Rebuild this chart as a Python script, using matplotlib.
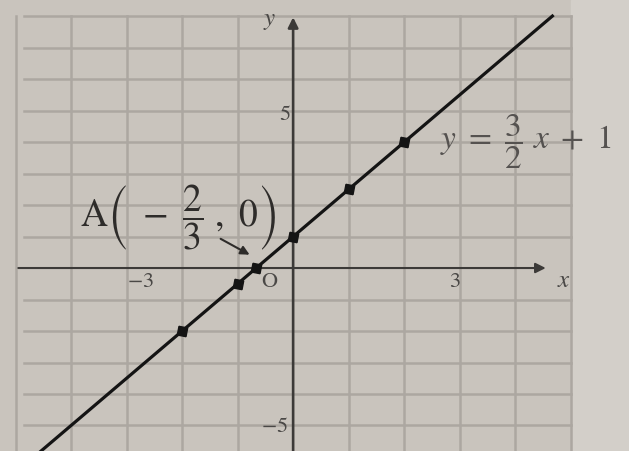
import numpy as np
import matplotlib.pyplot as plt

# points marked on the line y = 3/2 x + 1
pts_x = [-2, -1, -2/3, 0, 1, 2]
pts_y = [-2, -0.5, 0, 1, 2.5, 4]

# ends of the drawn line
line_x = [-4.8, 4.67]
line_y = [-6.2, 8.0]

grid_x = [-5, -4, -3, -2, -1, 1, 2, 3, 4, 5]
grid_y = [-6, -5, -4, -3, -2, -1, 1, 2, 3, 4, 5, 6, 7, 8]

tick_labels = {"x": [(-2.75, "$-3$"), (2.92, "$3$")], "y": [(5, "$5$"), (-5, "$-5$")]}

plt.rcParams['mathtext.fontset'] = 'stix'
plt.rcParams['font.family'] = ['Liberation Serif', 'DejaVu Serif']

fig = plt.figure(figsize=(6.29, 4.51), dpi=100)
fig.patch.set_facecolor('#c9c4bd')
ax = fig.add_axes([0, 0, 1, 1])
ax.set_facecolor('#c9c4bd')
ax.set_xlim(-5.28, 6.05)
ax.set_ylim(-5.81, 8.51)
ax.axis('off')

# lighter paper on the right beyond the grid
ax.axvspan(5.0, 6.1, color='#d3cfc9', zorder=0)

gc = '#aca7a1'
for gx in grid_x:
    ax.plot([gx, gx], [-6, 8], color=gc, lw=1.8, zorder=1)
for gy in grid_y:
    ax.plot([-4.85, 5], [gy, gy], color=gc, lw=1.8, zorder=1)

axc = '#3c3a38'
ax.annotate('', xy=(4.6, 0), xytext=(-5.0, 0),
            arrowprops=dict(arrowstyle='-|>', color=axc, lw=1.5, mutation_scale=15), zorder=2)
ax.annotate('', xy=(0, 8.05), xytext=(0, -6.0),
            arrowprops=dict(arrowstyle='-|>', color=axc, lw=1.9, mutation_scale=15), zorder=2)

ax.plot(line_x, line_y, color='#141414', lw=2.3, zorder=3)
ax.plot(pts_x, pts_y, ls='none', marker=(4, 0, 34), ms=9, color='#141414', zorder=4)

tc = '#4a4846'
ax.text(tick_labels["x"][0][0], -0.45, tick_labels["x"][0][1], ha='center', va='center', fontsize=16, color=tc)
ax.text(tick_labels["x"][1][0], -0.45, tick_labels["x"][1][1], ha='center', va='center', fontsize=16, color=tc)
ax.text(-0.05, tick_labels["y"][0][0] - 0.15, tick_labels["y"][0][1], ha='right', va='center', fontsize=16, color=tc)
ax.text(-0.1, tick_labels["y"][1][0] - 0.05, tick_labels["y"][1][1], ha='right', va='center', fontsize=16, color=tc)
ax.text(-0.42, -0.45, '$\\mathrm{O}$', ha='center', va='center', fontsize=16, color=tc)
ax.text(4.88, -0.42, '$x$', ha='center', va='center', fontsize=18, color=tc)
ax.text(-0.42, 7.85, '$y$', ha='center', va='center', fontsize=18, color=tc)

ax.text(2.65, 4.0, r'$y\ =\ \dfrac{3}{2}\ x\ +\ 1$', ha='left', va='center', fontsize=24, color='#555250')
ax.text(-3.83, 1.6, r'$\mathrm{A}\left(\ -\ \dfrac{2}{3}\ ,\ 0\right)$', ha='left', va='center',
        fontsize=27, color='#2e2c2a')
ax.annotate('', xy=(-0.74, 0.38), xytext=(-1.35, 0.97),
            arrowprops=dict(arrowstyle='-|>', color='#2e2c2a', lw=1.5, mutation_scale=13), zorder=4)

fig.savefig('out.png', dpi=100)
